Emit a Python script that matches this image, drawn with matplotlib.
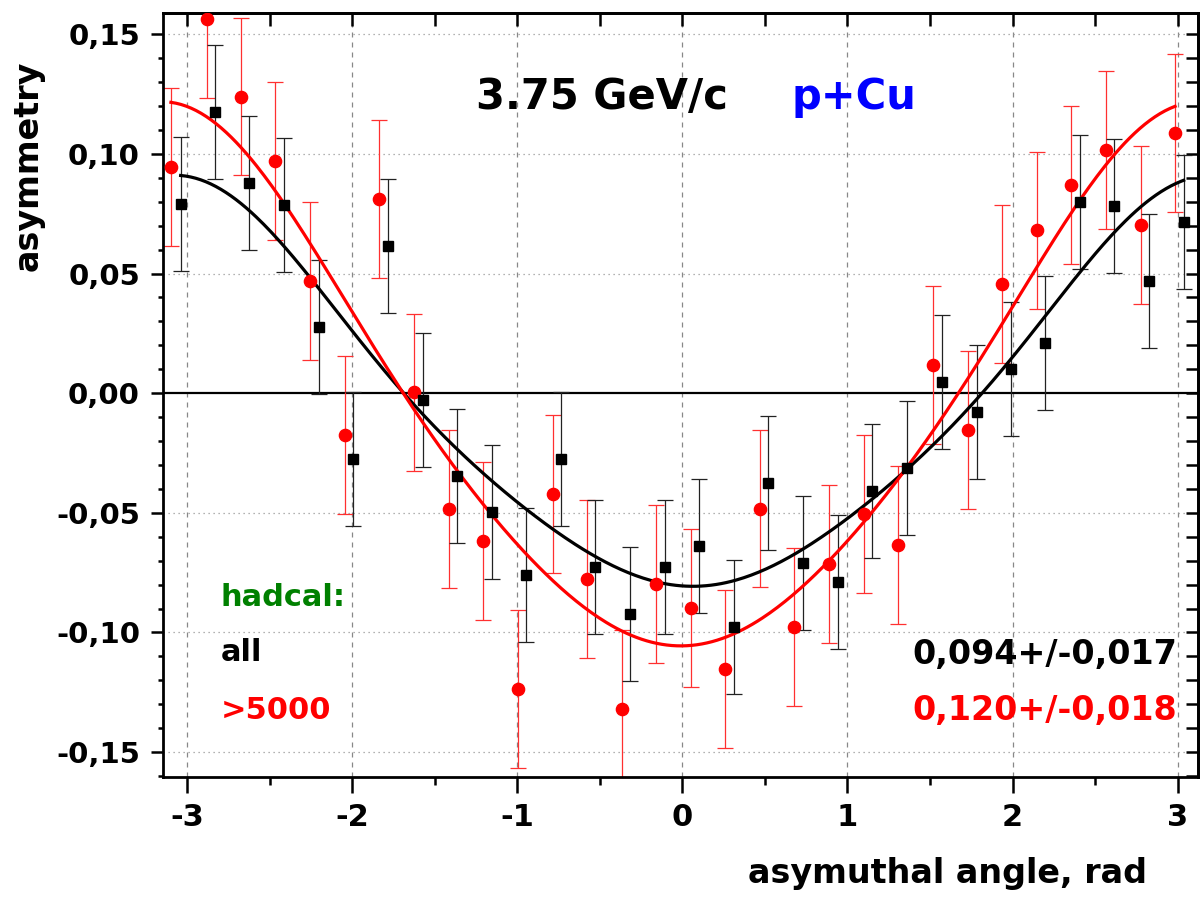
import matplotlib
matplotlib.use("Agg")
import matplotlib.pyplot as plt
from matplotlib.ticker import MultipleLocator, FuncFormatter
import numpy as np

plt.rcParams['font.family'] = ['DejaVu Sans']
plt.rcParams['font.weight'] = 'bold'

# data
# hadcal: all  (black squares)
all_x = [-3.041, -2.833, -2.625, -2.413, -2.203, -1.995, -1.787, -1.575, -1.365, -1.156,
         -0.948, -0.736, -0.528, -0.318, -0.108, 0.102, 0.310, 0.520, 0.732, 0.942,
         1.150, 1.359, 1.571, 1.783, 1.989, 2.199, 2.409, 2.617, 2.829, 3.037]
all_y = [0.0792, 0.1176, 0.0878, 0.0785, 0.0276, -0.0275, 0.0614, -0.0029, -0.0347, -0.0497,
         -0.0761, -0.0275, -0.0725, -0.0922, -0.0725, -0.0639, -0.0976, -0.0375, -0.0710, -0.0789,
         -0.0407, -0.0314, 0.0047, -0.0080, 0.0100, 0.0211, 0.0799, 0.0783, 0.0470, 0.0714]
all_err = [0.028, 0.028, 0.028, 0.028, 0.028, 0.028, 0.028, 0.028, 0.028, 0.028,
           0.028, 0.028, 0.028, 0.028, 0.028, 0.028, 0.028, 0.028, 0.028, 0.028,
           0.028, 0.028, 0.028, 0.028, 0.028, 0.028, 0.028, 0.028, 0.028, 0.028]

# hadcal: >5000  (red circles)
hi_x = [-3.100, -2.884, -2.676, -2.468, -2.258, -2.045, -1.838, -1.625, -1.415, -1.207,
        -0.999, -0.787, -0.579, -0.369, -0.161, 0.050, 0.259, 0.468, 0.678, 0.888,
        1.100, 1.308, 1.518, 1.728, 1.938, 2.147, 2.355, 2.567, 2.777, 2.985]
hi_y = [0.0945, 0.1565, 0.1240, 0.0971, 0.0468, -0.0175, 0.0811, 0.0003, -0.0483, -0.0618,
        -0.1238, -0.0422, -0.0775, -0.1318, -0.0799, -0.0897, -0.1153, -0.0482, -0.0978, -0.0715,
        -0.0504, -0.0636, 0.0117, -0.0153, 0.0457, 0.0680, 0.0871, 0.1017, 0.0704, 0.1086]
hi_err = [0.033, 0.033, 0.033, 0.033, 0.033, 0.033, 0.033, 0.033, 0.033, 0.033,
          0.033, 0.033, 0.033, 0.033, 0.033, 0.033, 0.033, 0.033, 0.033, 0.033,
          0.033, 0.033, 0.033, 0.033, 0.033, 0.033, 0.033, 0.033, 0.033, 0.033]

# fit parameters: y = c - a1*cos(d) + a2*cos(2d) + a3*cos(3d), d = x - x0
fit_all = dict(c=-0.0042, a1=0.0823, a2=0.0094, a3=-0.0036, x0=0.063)
fit_hi = dict(c=-0.0017, a1=0.1106, a2=0.0098, a3=-0.0031, x0=-0.01)


def fit_curve(p, x):
    d = x - p['x0']
    return p['c'] - p['a1'] * np.cos(d) + p['a2'] * np.cos(2 * d) + p['a3'] * np.cos(3 * d)


fig = plt.figure(figsize=(12.03, 8.98), dpi=100)
ax = fig.add_axes([163 / 1203, 121 / 898, 1035 / 1203, 764 / 898])

ax.set_xlim(-3.148, 3.124)
ax.set_ylim(-0.1604, 0.1589)

# grid
for gx in [-3, -2, -1, 0, 1, 2, 3]:
    ax.axvline(gx, color='#888888', lw=0.9, ls=(0, (4, 4)), zorder=0)
for gy in [-0.15, -0.10, -0.05, 0.05, 0.10, 0.15]:
    ax.axhline(gy, color='#999999', lw=0.9, ls=(0, (1, 3)), zorder=0)
ax.axhline(0, color='black', lw=1.6, zorder=1)

# error bars and points
ax.errorbar(hi_x, hi_y, yerr=hi_err, fmt='none', ecolor='#ff3030', elinewidth=0.9,
            capsize=6, capthick=0.9, zorder=2)
ax.errorbar(all_x, all_y, yerr=all_err, fmt='none', ecolor='#222222', elinewidth=0.9,
            capsize=6, capthick=0.9, zorder=2)

xs = np.linspace(all_x[0], all_x[-1], 400)
ax.plot(xs, fit_curve(fit_all, xs), color='black', lw=2.3, zorder=3)
xs = np.linspace(hi_x[0], hi_x[-1], 400)
ax.plot(xs, fit_curve(fit_hi, xs), color='#ff0000', lw=2.3, zorder=3)

ax.plot(hi_x, hi_y, 'o', color='#ff0000', ms=8.8, zorder=4)
ax.plot(all_x, all_y, 's', color='black', ms=7.8, zorder=4)

# ticks
ax.xaxis.set_major_locator(MultipleLocator(1))
ax.xaxis.set_minor_locator(MultipleLocator(0.5))
ax.yaxis.set_major_locator(MultipleLocator(0.05))
ax.yaxis.set_minor_locator(MultipleLocator(0.01))
ax.yaxis.set_major_formatter(FuncFormatter(lambda v, p: ('%.2f' % v).replace('.', ',').replace('-0,00', '0,00')))
ax.xaxis.set_major_formatter(FuncFormatter(lambda v, p: '%d' % round(v)))

ax.tick_params(axis='x', which='major', direction='out', length=11.5, width=1.8, labelsize=22, pad=7)
ax.tick_params(axis='x', which='minor', direction='out', length=5.8, width=1.8)
ax.tick_params(axis='y', which='major', direction='out', length=8.6, width=1.8, labelsize=21, pad=8)
ax.tick_params(axis='y', which='minor', direction='out', length=3.6, width=1.8)
for lab in ax.get_xticklabels() + ax.get_yticklabels():
    lab.set_fontweight('bold')

top = ax.secondary_xaxis('top')
top.xaxis.set_major_locator(MultipleLocator(1))
top.xaxis.set_minor_locator(MultipleLocator(0.5))
top.tick_params(axis='x', which='both', direction='in', length=9, width=1.8, labeltop=False)
right = ax.secondary_yaxis('right')
right.yaxis.set_major_locator(MultipleLocator(0.05))
right.yaxis.set_minor_locator(MultipleLocator(0.01))
right.tick_params(axis='y', which='both', direction='in', length=9, width=1.8, labelright=False)
for sec in (top, right):
    for s in sec.spines.values():
        s.set_linewidth(2)

for s in ax.spines.values():
    s.set_linewidth(2)

# labels
ax.set_ylabel('asymmetry', fontsize=24, fontweight='bold')
ax.yaxis.set_label_coords(-0.114, 0.80)
ax.set_xlabel('asymuthal angle, rad', fontsize=24, fontweight='bold')
ax.xaxis.set_label_coords(0.758, -0.105)

# annotations
ax.text(-0.49, 0.124, '3.75 GeV/c', fontsize=30, fontweight='bold', color='black',
        ha='center', va='center')
ax.text(1.04, 0.124, 'p+Cu', fontsize=30, fontweight='bold', color='#0000ff',
        ha='center', va='center')
ax.text(-2.8, -0.0855, 'hadcal:', fontsize=22, fontweight='bold', color='#008000',
        ha='left', va='center')
ax.text(-2.8, -0.1085, 'all', fontsize=22, fontweight='bold', color='black',
        ha='left', va='center')
ax.text(-2.8, -0.1325, '>5000', fontsize=22, fontweight='bold', color='#ff0000',
        ha='left', va='center')
ax.text(3.0, -0.109, '0,094+/-0,017', fontsize=24, fontweight='bold', color='black',
        ha='right', va='center')
ax.text(3.0, -0.1325, '0,120+/-0,018', fontsize=24, fontweight='bold', color='#ff0000',
        ha='right', va='center')

fig.savefig('out.png', dpi=100)
